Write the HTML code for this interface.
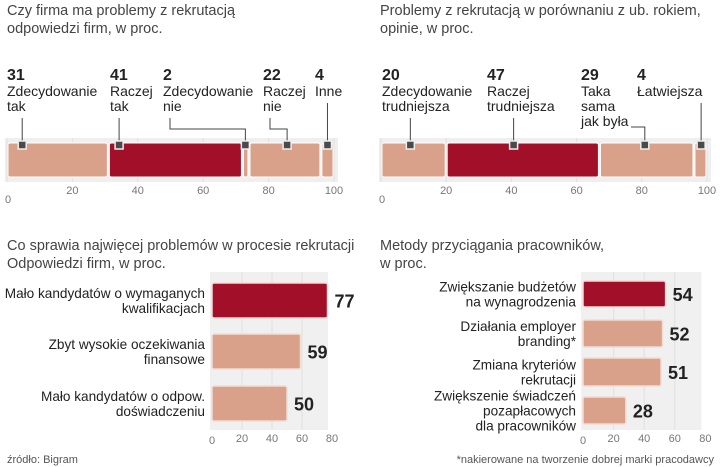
<!DOCTYPE html>
<html><head><meta charset="utf-8">
<style>
html,body{margin:0;padding:0;background:#fff;}
svg{display:block;font-family:"Liberation Sans",sans-serif;}
.t{font-size:14.5px;fill:#444;}
.lab{font-size:14px;fill:#222;}
.blab{font-size:13.6px;fill:#222;}
.num{font-size:16px;font-weight:bold;fill:#222;}
.tick{font-size:11px;fill:#777;}
</style></head>
<body>
<svg id="c" width="720" height="467" viewBox="0 0 720 467">
<text class="t" x="7" y="15">Czy firma ma problemy z rekrutacją</text>
<text class="t" x="7" y="33">odpowiedzi firm, w proc.</text>
<text class="t" x="380" y="15">Problemy z rekrutacją w porównaniu z ub. rokiem,</text>
<text class="t" x="380" y="33">opinie, w proc.</text>
<text class="t" x="7" y="250">Co sprawia najwięcej problemów w procesie rekrutacji</text>
<text class="t" x="7" y="268">Odpowiedzi firm, w proc.</text>
<text class="t" x="380" y="250">Metody przyciągania pracowników,</text>
<text class="t" x="380" y="268">w proc.</text>
<text x="7" y="463" style="font-size:11px;fill:#555">źródło: Bigram</text>
<text x="714" y="463" text-anchor="end" style="font-size:11px;fill:#555">*nakierowane na tworzenie dobrej marki pracodawcy</text>
</svg>
<script>
const s1Labels=[["Zdecydowanie","tak"],["Raczej","tak"],["Zdecydowanie","nie"],["Raczej","nie"],["Inne"]];
const s1Values=[31,41,2,22,4];
const s1Dark=[false,true,false,false,false];
const s2Labels=[["Zdecydowanie","trudniejsza"],["Raczej","trudniejsza"],["Taka","sama","jak była"],["Łatwiejsza"]];
const s2Values=[20,47,29,4];
const s2Dark=[false,true,false,false];
const stackTicks=[0,20,40,60,80,100];
const b1Labels=[["Mało kandydatów o wymaganych","kwalifikacjach"],["Zbyt wysokie oczekiwania","finansowe"],["Mało kandydatów o odpow.","doświadczeniu"]];
const b1Values=[77,59,50];
const b2Labels=[["Zwiększanie budżetów","na wynagrodzenia"],["Działania employer","branding*"],["Zmiana kryteriów","rekrutacji"],["Zwiększenie świadczeń","pozapłacowych","dla pracowników"]];
const b2Values=[54,52,51,28];
const barTicks=[0,20,40,60,80];

const svg=document.getElementById('c');
const NS='http://www.w3.org/2000/svg';
const LIGHT='#d9a08a',DARK='#a20f29';
function mk(tag,attrs,parent){const e=document.createElementNS(NS,tag);for(const k in attrs)e.setAttribute(k,attrs[k]);(parent||svg).appendChild(e);return e;}

function stacked(labels,values,dark,x0,x1,labelXs,markerFrac,leaders,prefix){
  const sx=v=>x0+(x1-x0)*v/100;
  const bg=mk('rect',{x:x0-2,y:138,width:x1-x0+6,height:44,fill:'#efefef'});
  
  
  stackTicks.forEach(t=>{
    mk('line',{x1:sx(t),x2:sx(t),y1:138,y2:182,stroke:'#e0e0e0','stroke-width':1});
    const tx=mk('text',{x:t===0?sx(t)-2:sx(t),y:t===0?203:194,'text-anchor':t===0?'start':'middle',class:'tick'});
    tx.textContent=t;
    
    
  });
  let cum=0;
  values.forEach((v,i)=>{
    const a=sx(cum),b=sx(cum+v);
    const r=mk('rect',{x:a+1,y:143,width:Math.max(b-a-2,1),height:34,rx:2,fill:dark[i]?DARK:LIGHT,stroke:'#fff','stroke-width':1});
    
    
    const mx=a+(b-a)*markerFrac[i], lx=labelXs[i];
    const g=mk('g',{});
    const num=mk('text',{x:lx,y:80,class:'num'},g);
    num.textContent=v;
    
    
    labels[i].forEach((l,j)=>{const t=mk('text',{x:lx,y:96+j*15,class:'lab'},g);t.textContent=l;
      
      });
    const L=leaders[i];
    let d;
    if(L.type==='v') d=`M${mx},${L.y}V145`;
    else if(L.type==='elbow') d=`M${lx+L.dx},${L.y}V129H${mx}V145`;
    else d=`M${lx+L.dx},${L.y}H${mx}V145`;
    mk('path',{d:d,fill:'none',stroke:'#444','stroke-width':1},g);
    const m=mk('rect',{x:mx-4,y:141,width:8,height:8,fill:'#4a4a4a',stroke:'#eee','stroke-width':1.5},g);
    
    
    cum+=v;
  });
}
stacked(s1Labels,s1Values,s1Dark,7,334,[7,110,163,263,315],[0.15,0.08,0.45,0.53,0.5],
  [{type:'v',y:118},{type:'v',y:118},{type:'elbow',dx:7,y:118},{type:'elbow',dx:7,y:118},{type:'v',y:103}],'firm-problem');
stacked(s2Labels,s2Values,s2Dark,381,707,[382,487,581,637],[0.45,0.44,0.48,0.55],
  [{type:'v',y:118},{type:'v',y:118},{type:'h',dx:50,y:127},{type:'v',y:103}],'year-compare');

function hbars(labels,values,x0,scale,tops,heights,labelRight,panelTop,panelBot,tickY,prefix){
  const sx=v=>x0+v*scale;
  const bg=mk('rect',{x:x0-2,y:panelTop,width:sx(80)-x0-2,height:panelBot-panelTop,fill:'#f0f0f0'});
  
  
  barTicks.forEach(t=>{
    if(t>0&&t<80) mk('line',{x1:sx(t),x2:sx(t),y1:panelTop,y2:panelBot,stroke:'#e0e0e0'});
    const tx=mk('text',{x:sx(t),y:t===0?tickY+2:tickY,'text-anchor':'middle',class:'tick'});
    tx.textContent=t;
    
    
  });
  values.forEach((v,i)=>{
    const y=tops[i],h=heights[i];
    const r=mk('rect',{x:x0,y:y,width:sx(v)-x0,height:h,rx:2,fill:i===0?DARK:LIGHT,stroke:'#f3dcd3','stroke-width':1.5});
    
    
    const vt=mk('text',{x:sx(v)+7,y:y+h/2+7,class:'num',style:'font-size:18px'});
    vt.textContent=v;
    
    
    const L=labels[i],n=L.length,cy=y+h/2;
    L.forEach((l,j)=>{
      const t=mk('text',{x:labelRight,y:cy+(j-(n-1)/2)*15+5,'text-anchor':'end',class:'blab'});
      t.textContent=l;
      
      
    });
  });
}
hbars(b1Labels,b1Values,212,1.5,[283,334,386],[35,35,35],205,272,430,442,'problem-cause');
hbars(b2Labels,b2Values,583,1.53,[281,320,358,397],[26,27,28,27],576,272,430,442,'attraction-method');
</script>
</body></html>
